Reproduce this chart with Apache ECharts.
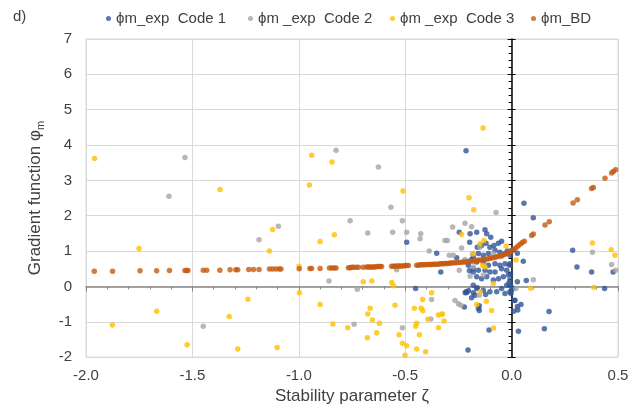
<!DOCTYPE html>
<html>
<head>
	<meta charset="UTF-8">
	<title>Gradient function</title>
	<script src="https://cdn.jsdelivr.net/npm/echarts@6.0.0/dist/echarts.min.js"></script>
	<style>
		html, body { margin: 0; padding: 0; background: #fff; }
		#main { width: 637px; height: 410px; }
	</style>
</head>
<body>
<div id="main"></div>
<script type="text/javascript">
	// phi_m observed, code 1 (blue)
	var code1 = [
		[0.058, 2.35], [0.102, 1.94], [0.287, 1.02], [0.307, 0.55], [0.376, 0.41], [0.477, 0.41], [0.437, -0.06],
		[0.176, -0.71], [0.154, -1.20], [0.032, -1.27], [0.029, -0.67], [0.010, -0.70], [0.044, -0.51], [0.013, -0.40],
		[0.069, 0.17], [0.027, 0.13], [0.055, 0.71], [0.027, 0.94], [0.002, 1.02], [0.0, -0.10], [-0.005, 0.02],
		[0.016, -0.39], [0.027, -0.57], [-0.214, 3.84], [-0.493, 1.25], [-0.352, 0.94], [-0.333, 0.41], [-0.451, -0.06],
		[-0.205, -1.80], [-0.106, -1.23], [-0.152, -0.68], [-0.122, -0.23], [-0.152, -0.55], [-0.188, -0.32],
		[-0.211, -0.17], [-0.203, -0.12], [-0.161, -0.04], [-0.222, -0.58], [-0.156, -0.62], [-0.218, -0.18],
		[-0.246, 1.53], [-0.195, 1.49], [-0.197, 1.25], [-0.258, 0.81], [-0.188, 0.76], [-0.203, 0.60], [-0.198, 0.44],
		[-0.180, 0.41], [-0.214, -0.15], [-0.180, -0.18],
		[-0.164, 1.53], [-0.125, 1.60], [-0.117, 1.49], [-0.098, 1.39], [-0.120, 1.22], [-0.141, 1.16], [-0.161, 1.11],
		[-0.102, 1.11], [-0.083, 1.16], [-0.062, 1.22], [-0.047, 1.28], [-0.078, 1.02], [-0.055, 0.97], [-0.031, 0.93],
		[-0.020, 1.00], [-0.008, 0.88], [-0.109, 0.93], [-0.133, 0.88], [-0.156, 0.93], [-0.180, 0.83], [-0.164, 0.69],
		[-0.133, 0.69], [-0.109, 0.60], [-0.078, 0.64], [-0.055, 0.60], [-0.031, 0.64], [-0.008, 0.64], [-0.180, 0.50],
		[-0.156, 0.46], [-0.125, 0.46], [-0.102, 0.41], [-0.078, 0.41], [-0.047, 0.50], [-0.023, 0.46], [-0.164, 0.27],
		[-0.141, 0.22], [-0.117, 0.27], [-0.086, 0.18], [-0.062, 0.22], [-0.039, 0.27], [-0.015, 0.32], [-0.008, 0.18],
		[-0.023, 0.03], [-0.047, -0.06], [-0.070, -0.15], [-0.102, -0.15], [-0.133, -0.11], [-0.164, -0.06],
		[-0.180, 0.03], [-0.172, -0.25], [-0.008, -0.15], [-0.031, -0.20], [-0.010, 0.60], [-0.005, 0.35],
		[-0.012, 0.10], [-0.003, -0.20], [0.005, -0.05]
	];
	// phi_m observed, code 2 (grey)
	var code2 = [
		[-1.535, 3.65], [-1.610, 2.55], [-1.449, -1.13], [-1.187, 1.32], [-0.825, 3.85], [-0.626, 3.38], [-0.567, 2.24],
		[-0.073, 2.09], [0.380, 0.97], [0.470, 0.62], [0.489, 0.46], [0.102, 0.19], [0.020, -0.06], [-0.266, -0.40],
		[-0.250, -0.49], [-0.239, -0.53], [-0.513, 1.86], [-0.759, 1.86], [-0.559, 1.53], [-0.493, 1.53],
		[-0.427, 1.49], [-0.430, 1.35], [-0.313, 1.30], [-0.302, 1.30], [-0.676, 1.51], [-1.096, 1.70], [-0.387, 1.00],
		[-0.293, 0.88], [-0.540, 0.47], [-0.858, 0.15], [-0.725, -0.08], [-0.376, -0.37], [-0.740, -1.07],
		[-0.513, -1.17], [-0.380, -0.92], [-0.277, 1.68], [-0.235, 1.09], [-0.274, 0.88], [-0.219, 0.76],
		[-0.183, 0.92], [-0.246, 0.46], [-0.195, 0.29], [-0.188, 1.69], [-0.149, 1.11], [-0.086, 0.93],
		[-0.047, 0.85], [-0.133, 0.32], [-0.180, 0.55], [-0.152, -0.25], [-0.219, 1.79]
	];
	// phi_m observed, code 3 (yellow)
	var code3 = [
		[-1.960, 3.62], [-1.370, 2.74], [-1.751, 1.07], [-1.876, -1.09], [-1.668, -0.70], [-1.525, -1.65],
		[-1.327, -0.85], [-1.287, -1.77], [-1.239, -0.36], [-0.939, 3.71], [-0.844, 3.52], [-0.950, 2.87],
		[-0.510, 2.70], [-0.134, 4.48], [-0.200, 2.51], [-0.178, 2.17], [0.380, 1.23], [0.468, 1.04], [0.485, 0.88],
		[0.386, -0.03], [0.090, -0.05], [0.021, 0.75], [-0.085, -1.18], [-0.094, -0.68], [-0.119, -0.42],
		[-0.164, -0.51], [-0.148, -0.15], [-0.325, -0.78], [-0.317, -0.98], [-1.123, 1.61], [-1.138, 1.00],
		[-0.900, 1.27], [-0.833, 1.46], [-0.999, 0.57], [-0.697, 0.13], [-0.657, 0.15], [-0.563, 0.11],
		[-0.555, 0.02], [-0.997, -0.18], [-0.900, -0.51], [-0.376, -0.18], [-0.418, -0.37], [-0.548, -0.53],
		[-0.665, -0.62], [-0.676, -0.78], [-0.654, -0.95], [-0.621, -1.04], [-0.840, -1.06], [-0.770, -1.17],
		[-0.634, -1.31], [-0.678, -1.45], [-0.529, -1.37], [-0.513, -1.61], [-0.493, -1.68], [-0.501, -1.95],
		[-0.457, -0.62], [-0.425, -0.62], [-0.417, -0.69], [-0.446, -1.04], [-0.451, -1.13], [-0.433, -1.37],
		[-0.446, -1.77], [-0.404, -1.85], [-0.394, -0.93], [-0.344, -0.81], [-0.328, -0.79], [-0.344, -1.17],
		[-1.102, -1.73], [-0.235, 1.47], [-0.130, 1.30], [-0.149, 1.21], [-0.026, 1.14], [-0.180, 0.93],
		[-0.136, 0.60], [-0.125, 0.55], [-0.086, 0.08]
	];
	// Businger-Dyer curve, points
	var bdX = [
		-1.961, -1.875, -1.746, -1.668, -1.608, -1.535, -1.527, -1.521, -1.449, -1.433, -1.371, -1.323, -1.296,
		-1.287, -1.235, -1.213, -1.187, -1.138, -1.123, -1.107, -1.092, -1.084, -0.998, -0.948, -0.940, -0.900,
		-0.856, -0.845, -0.834, -0.825, -0.767, -0.759, -0.751, -0.744, -0.731, -0.720, -0.697, -0.681, -0.673,
		-0.665, -0.657, -0.650, -0.642, -0.634, -0.626, -0.618, -0.611, -0.564, -0.556, -0.548, -0.540, -0.532,
		-0.525, -0.517, -0.509, -0.501, -0.493, -0.485, -0.446, -0.438, -0.430, -0.423, -0.415, -0.407, -0.399,
		-0.391, -0.383, -0.376, -0.368, -0.360, -0.352, -0.344, -0.336, -0.328, -0.321, -0.313, -0.305, -0.297,
		-0.289, -0.28, -0.27, -0.26, -0.25, -0.24, -0.23, -0.22, -0.21, -0.20, -0.19, -0.18, -0.17, -0.16, -0.15,
		-0.14, -0.13, -0.12, -0.11, -0.10, -0.09, -0.08, -0.07, -0.06, -0.05, -0.04, -0.03, -0.02, -0.01, 0.0,
		0.01, 0.02, 0.03, 0.04, 0.05, 0.06, 0.094, 0.102, 0.157, 0.177, 0.289, 0.309, 0.376, 0.384, 0.439, 0.470,
		0.478, 0.489
	];
	var bdY = [
		0.43, 0.43, 0.44, 0.44, 0.45, 0.45, 0.45, 0.45, 0.46, 0.46, 0.46, 0.47, 0.47,
		0.47, 0.48, 0.48, 0.48, 0.49, 0.49, 0.49, 0.49, 0.49, 0.50, 0.51, 0.51, 0.51,
		0.52, 0.52, 0.52, 0.52, 0.53, 0.53, 0.54, 0.54, 0.54, 0.54, 0.54, 0.55, 0.55,
		0.55, 0.55, 0.55, 0.55, 0.56, 0.56, 0.56, 0.56, 0.57, 0.57, 0.57, 0.58, 0.58,
		0.58, 0.58, 0.58, 0.59, 0.59, 0.59, 0.60, 0.60, 0.61, 0.61, 0.61, 0.61, 0.62,
		0.62, 0.62, 0.62, 0.63, 0.63, 0.63, 0.63, 0.64, 0.64, 0.64, 0.65, 0.65, 0.65,
		0.66, 0.66, 0.67, 0.67, 0.68, 0.68, 0.69, 0.69, 0.70, 0.71, 0.71, 0.72, 0.73, 0.74, 0.75,
		0.75, 0.76, 0.77, 0.78, 0.80, 0.81, 0.82, 0.84, 0.85, 0.87, 0.89, 0.91, 0.94, 0.97, 1.00,
		1.05, 1.09, 1.14, 1.19, 1.24, 1.28, 1.44, 1.48, 1.74, 1.83, 2.36, 2.45, 2.77, 2.80, 3.06, 3.21,
		3.25, 3.30
	];
	var seriesNames = ['ϕm_exp  Code 1', 'ϕm _exp  Code 2', 'ϕm _exp  Code 3', 'ϕm_BD'];
	var colors = ['#2F5597', '#A5A5A5', '#FFC000', '#C55A11'];
	var xTicks = { min: -2, max: 0.5, interval: 0.5 };
	var yTicks = { min: -2, max: 7, interval: 1 };

	var bd = bdX.map(function (x, i) { return [x, bdY[i]]; });
	var font = 'Liberation Sans, Arial, sans-serif';
	var txt = '#404040';

	function legendAt(left, i) {
		return {
			data: [seriesNames[i]],
			left: left,
			top: 6,
			icon: 'circle',
			itemWidth: 5,
			itemHeight: 5,
			itemGap: 0,
			textStyle: { fontFamily: font, fontSize: 15, color: txt, padding: [0, 0, 0, 0] }
		};
	}

	var myChart = echarts.init(document.getElementById('main'), null, { renderer: 'canvas' });
	var option = {
		animation: false,
		color: colors,
		title: {
			text: 'd)',
			left: 8,
			top: 4,
			textStyle: { fontFamily: font, fontSize: 15, fontWeight: 'normal', color: txt }
		},
		legend: [legendAt(101, 0), legendAt(243, 1), legendAt(385, 2), legendAt(526, 3)],
		grid: {
			left: 86, right: 19, top: 39, bottom: 51,
			show: true, borderColor: '#d9d9d9', borderWidth: 1
		},
		xAxis: [
			{
				type: 'value', min: xTicks.min, max: xTicks.max, interval: xTicks.interval,
				position: 'bottom',
				name: 'Stability parameter ζ', nameLocation: 'middle', nameGap: 30,
				nameTextStyle: { fontFamily: font, fontSize: 17, color: txt },
				axisLine: { show: false, onZero: false },
				axisTick: { show: false },
				axisLabel: {
					fontFamily: font, fontSize: 15, color: txt, margin: 11,
					formatter: function (v) { return v.toFixed(1); }
				},
				splitLine: { show: true, lineStyle: { color: '#d9d9d9', width: 1 } }
			},
			{
				type: 'value', min: xTicks.min, max: xTicks.max, interval: xTicks.interval,
				position: 'bottom',
				axisLine: { show: true, onZero: true, lineStyle: { color: '#868686', width: 1.5 } },
				axisTick: { show: true, inside: false, length: 5, lineStyle: { color: '#868686', width: 1 } },
				minorTick: { show: true, splitNumber: 5, length: 3, lineStyle: { color: '#868686', width: 1 } },
				axisLabel: { show: false },
				splitLine: { show: false }
			}
		],
		yAxis: [
			{
				type: 'value', min: yTicks.min, max: yTicks.max, interval: yTicks.interval,
				position: 'left',
				name: '{a|Gradient function φ}{b|m}', nameLocation: 'middle', nameGap: 40,
				nameTextStyle: {
					rich: {
						a: { fontFamily: font, fontSize: 17, color: txt, lineHeight: 22 },
						b: { fontFamily: font, fontSize: 11, color: txt, lineHeight: 22, verticalAlign: 'bottom' }
					}
				},
				axisLine: { show: false, onZero: false },
				axisTick: { show: false },
				axisLabel: { fontFamily: font, fontSize: 15, color: txt, margin: 14 },
				splitLine: { show: true, lineStyle: { color: '#d9d9d9', width: 1 } }
			},
			{
				type: 'value', min: yTicks.min, max: yTicks.max, interval: yTicks.interval,
				position: 'left',
				axisLine: { show: true, onZero: true, lineStyle: { color: '#000', width: 1.5 } },
				axisTick: { show: true, inside: false, length: 4, lineStyle: { color: '#000', width: 1 } },
				minorTick: { show: true, splitNumber: 5, length: 3, lineStyle: { color: '#000', width: 1 } },
				axisLabel: { show: false },
				splitLine: { show: false }
			},
			{
				type: 'value', min: yTicks.min, max: yTicks.max, interval: yTicks.interval,
				position: 'left',
				axisLine: { show: false, onZero: true },
				axisTick: { show: true, inside: true, length: 4, lineStyle: { color: '#000', width: 1 } },
				axisLabel: { show: false },
				splitLine: { show: false }
			}
		],
		series: [
			{ name: seriesNames[0], type: 'scatter', data: code1, symbolSize: 5.5, itemStyle: { color: colors[0] } },
			{ name: seriesNames[1], type: 'scatter', data: code2, symbolSize: 5.5, itemStyle: { color: colors[1] } },
			{ name: seriesNames[2], type: 'scatter', data: code3, symbolSize: 5.5, itemStyle: { color: colors[2] } },
			{ name: seriesNames[3], type: 'scatter', data: bd, symbolSize: 5.5, itemStyle: { color: colors[3] } }
		]
	};
	myChart.setOption(option, true);
</script>
</body>
</html>
